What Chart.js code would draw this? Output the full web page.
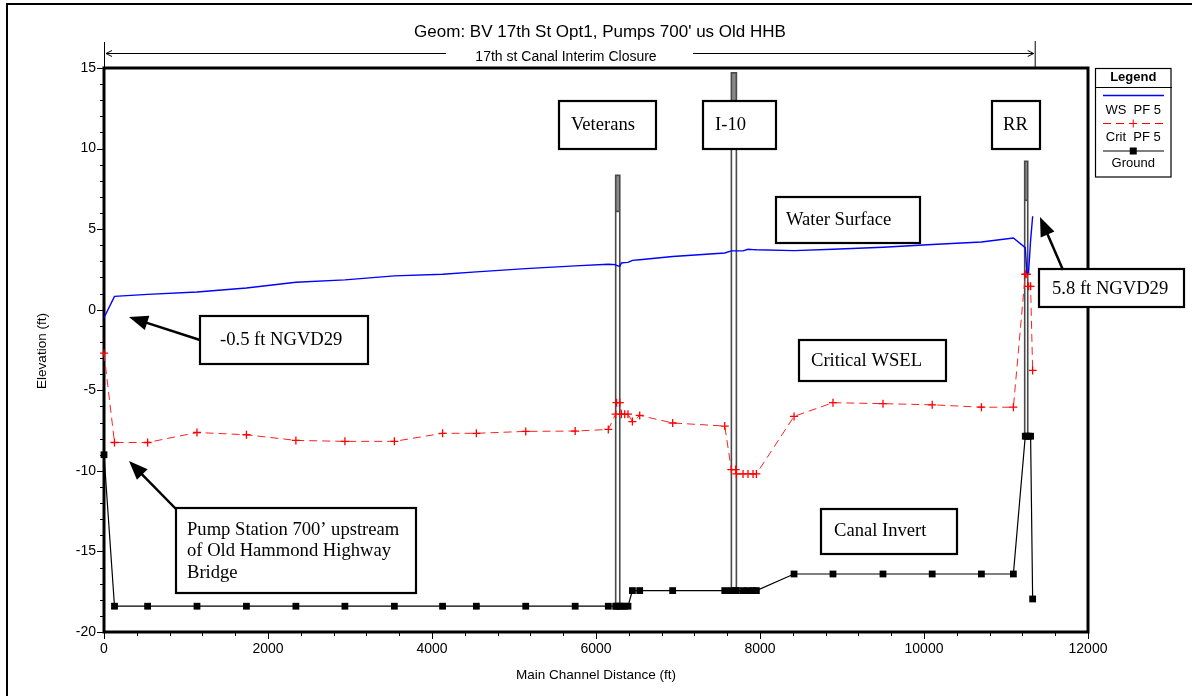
<!DOCTYPE html>
<html>
<head>
<meta charset="utf-8">
<script src="https://cdn.jsdelivr.net/npm/chart.js@4.4.1/dist/chart.umd.min.js"></script>
<style>
  html, body { margin: 0; padding: 0; background: #fff; overflow: hidden; }
  #wrap { width: 1192px; height: 696px; position: relative; }
</style>
</head>
<body>
<div id="wrap"><canvas id="c" width="1192" height="696"></canvas></div>
<script>
// Profile stations along the main channel (ft)
const stations = [0, 128, 532, 1134, 1737, 2340, 2938, 3541, 4129, 4541, 5143, 5746, 6150,
  6240, 6250, 6290, 6310, 6350, 6390, 6444, 6533, 6935,
  7570, 7651, 7704, 7712, 7793, 7854, 7915, 7956, 8415,
  8890, 9500, 10100, 10700, 11090, 11235, 11255, 11275, 11300, 11325];

// Water surface, PF 5 (ft)
const wsElev = [-0.5, 0.83, 0.95, 1.1, 1.35, 1.7, 1.85, 2.1, 2.2, 2.35, 2.55, 2.72, 2.82,
  2.8, 2.75, 2.69, 2.9, 2.92, 2.94, 3.06, 3.1, 3.3,
  3.52, 3.65, 3.65, 3.65, 3.65, 3.75, 3.73, 3.72, 3.67,
  3.75, 3.88, 4.05, 4.2, 4.45, 3.85, 2.3, 2.3, 4.3, 5.8];

// Critical water surface, PF 5 (ft)
const critElev = [-2.7, -8.24, -8.24, -7.62, -7.76, -8.11, -8.17, -8.17, -7.67, -7.67, -7.55, -7.53, -7.43,
  -6.48, -5.77, -5.77, -6.48, -6.48, -6.48, -6.94, -6.56, -7.03,
  -7.22, -9.92, -9.92, -10.19, -10.19, -10.19, -10.19, -10.19, -6.62,
  -5.77, -5.83, -5.9, -6.05, -6.05, 2.2, 2.2, 1.45, 1.45, -3.77];

// Channel invert (ft)
const groundElev = [-9.0, -18.4, -18.4, -18.4, -18.4, -18.4, -18.4, -18.4, -18.4, -18.4, -18.4, -18.4, -18.4,
  -18.4, -18.4, -18.4, -18.4, -18.4, -18.4, -17.43, -17.43, -17.43,
  -17.43, -17.43, -17.43, -17.43, -17.43, -17.43, -17.43, -17.43, -16.4,
  -16.4, -16.4, -16.4, -16.4, -16.4, -7.85, -7.85, -7.85, -7.85, -17.95];

// Bridges crossing the canal
const bridgeNames = ['Veterans', 'I-10', 'RR'];
const bridgeUpSta = [6240, 7651, 11228];
const bridgeDnSta = [6290, 7712, 11265];
const bridgeTopElev = [8.34, 14.7, 9.21];
const bridgeLowChord = [6.1, 12.5, 6.79];
const bridgeBaseElev = [-18.4, -17.43, -7.85];

// Reach covered by the interim closure (ft)
const closureReach = [0, 11350];

// Axis ranges and tick spacing
const xRange = [0, 12000];
const yRange = [-20, 15];
const xMinorStep = 400, xMajorStep = 2000;
const yMinorStep = 1, yMajorStep = 5;

const FONT = "'Liberation Sans', Arial, Helvetica, sans-serif";
const SERIF = "'Liberation Serif', 'Times New Roman', Times, serif";

function pts(vals) { return stations.map((s, i) => ({ x: s, y: vals[i] })); }

function arrowHead(ctx, x0, y0, x1, y1, len, half) {
  const a = Math.atan2(y1 - y0, x1 - x0);
  const bx = x1 - len * Math.cos(a), by = y1 - len * Math.sin(a);
  ctx.beginPath();
  ctx.moveTo(x1, y1);
  ctx.lineTo(bx + half * Math.sin(a), by - half * Math.cos(a));
  ctx.lineTo(bx - half * Math.sin(a), by + half * Math.cos(a));
  ctx.closePath();
  ctx.fill();
}

function calloutArrow(ctx, x0, y0, x1, y1) {
  const a = Math.atan2(y1 - y0, x1 - x0);
  ctx.save();
  ctx.strokeStyle = '#000'; ctx.fillStyle = '#000'; ctx.lineWidth = 2.5;
  ctx.beginPath(); ctx.moveTo(x0, y0);
  ctx.lineTo(x1 - 14 * Math.cos(a), y1 - 14 * Math.sin(a)); ctx.stroke();
  arrowHead(ctx, x0, y0, x1, y1, 19, 7.5);
  ctx.restore();
}

function textBox(ctx, x1, y1, x2, y2, lines, tx, ty, lh) {
  ctx.save();
  ctx.fillStyle = '#fff';
  ctx.fillRect(x1, y1, x2 - x1, y2 - y1);
  ctx.strokeStyle = '#000'; ctx.lineWidth = 2.2;
  ctx.strokeRect(x1, y1, x2 - x1, y2 - y1);
  ctx.fillStyle = '#000';
  ctx.font = '18.6px ' + SERIF;
  ctx.textAlign = 'left'; ctx.textBaseline = 'middle';
  lines.forEach((t, i) => ctx.fillText(t, tx, ty + i * lh));
  ctx.restore();
}

// Bridge decks and piers, tick marks and plot frame, drawn beneath the profile lines
const underlayPlugin = {
  id: 'underlay',
  beforeDatasetsDraw(chart) {
    const { ctx, chartArea: ca, scales: { x, y } } = chart;
    ctx.save();
    for (let i = 0; i < bridgeNames.length; i++) {
      const xa = x.getPixelForValue(bridgeUpSta[i]);
      const xb = x.getPixelForValue(bridgeDnSta[i]);
      const yt = y.getPixelForValue(bridgeTopElev[i]);
      const yl = y.getPixelForValue(bridgeLowChord[i]);
      const yb = y.getPixelForValue(bridgeBaseElev[i]);
      ctx.fillStyle = '#8a8a8a';
      ctx.fillRect(xa, yt, xb - xa, yl - yt);
      ctx.strokeStyle = '#4a4a4a'; ctx.lineWidth = 1.6;
      ctx.strokeRect(xa, yt, xb - xa, yb - yt);
      ctx.beginPath(); ctx.moveTo(xa, yl); ctx.lineTo(xb, yl); ctx.stroke();
    }

    ctx.lineWidth = 1; ctx.strokeStyle = '#000';
    for (let v = yRange[0]; v <= yRange[1]; v += yMinorStep) {
      const py = Math.round(y.getPixelForValue(v)) + 0.5;
      const len = (v % yMajorStep === 0) ? 7 : 4;
      ctx.beginPath(); ctx.moveTo(ca.left - len, py); ctx.lineTo(ca.left, py); ctx.stroke();
    }
    for (let v = xRange[0]; v <= xRange[1]; v += xMinorStep) {
      const px = Math.round(x.getPixelForValue(v)) + 0.5;
      const len = (v % xMajorStep === 0) ? 7 : 4;
      ctx.beginPath(); ctx.moveTo(px, ca.bottom); ctx.lineTo(px, ca.bottom + len); ctx.stroke();
    }
    ctx.lineWidth = 3;
    ctx.strokeRect(ca.left, ca.top, ca.right - ca.left, ca.bottom - ca.top);
    ctx.restore();
  }
};

// Titles, legend and callouts
const overlayPlugin = {
  id: 'overlay',
  afterDraw(chart) {
    const { ctx, chartArea: ca, scales: { x } } = chart;
    ctx.save();

    // figure border
    ctx.strokeStyle = '#000'; ctx.lineWidth = 2;
    ctx.strokeRect(7, 4, 1200, 710);

    // titles
    ctx.fillStyle = '#000';
    ctx.textAlign = 'center'; ctx.textBaseline = 'middle';
    ctx.font = '17px ' + FONT;
    ctx.fillText("Geom: BV 17th St Opt1, Pumps 700' us Old HHB", 600, 32);
    ctx.font = '13.5px ' + FONT;
    ctx.fillText('Main Channel Distance (ft)', 596, 675);
    ctx.save();
    ctx.translate(42, 351); ctx.rotate(-Math.PI / 2);
    ctx.fillText('Elevation (ft)', 0, 0);
    ctx.restore();

    // closure reach dimension line
    const cx0 = x.getPixelForValue(closureReach[0]);
    const cx1 = x.getPixelForValue(closureReach[1]);
    const dimY = 53.5;
    ctx.font = '14px ' + FONT;
    ctx.fillText('17th st Canal Interim Closure', 566, 57);
    ctx.lineWidth = 1;
    ctx.beginPath();
    ctx.moveTo(cx0 + 0.5, 42); ctx.lineTo(cx0 + 0.5, ca.top);
    ctx.moveTo(cx1 + 0.5, 41); ctx.lineTo(cx1 + 0.5, ca.top);
    ctx.moveTo(cx0 + 2, dimY); ctx.lineTo(446, dimY);
    ctx.moveTo(693, dimY); ctx.lineTo(cx1 - 1, dimY);
    ctx.moveTo(cx0 + 8, dimY - 3); ctx.lineTo(cx0 + 2, dimY); ctx.lineTo(cx0 + 8, dimY + 3);
    ctx.moveTo(cx1 - 7, dimY - 3); ctx.lineTo(cx1 - 1, dimY); ctx.lineTo(cx1 - 7, dimY + 3);
    ctx.stroke();

    // legend
    const lx0 = 1095.5, lx1 = 1171, ly0 = 68.5, ly1 = 177;
    const lc = (lx0 + lx1) / 2;
    ctx.fillStyle = '#fff'; ctx.fillRect(lx0, ly0, lx1 - lx0, ly1 - ly0);
    ctx.strokeStyle = '#000'; ctx.lineWidth = 1.2;
    ctx.strokeRect(lx0, ly0, lx1 - lx0, ly1 - ly0);
    ctx.beginPath(); ctx.moveTo(lx0, 87.5); ctx.lineTo(lx1 + 1, 87.5); ctx.stroke();
    ctx.fillStyle = '#000';
    ctx.font = 'bold 13px ' + FONT;
    ctx.fillText('Legend', lc, 77);
    ctx.font = '13px ' + FONT;
    ctx.fillText('WS  PF 5', lc, 110);
    ctx.fillText('Crit  PF 5', lc, 137);
    ctx.fillText('Ground', lc, 163);
    ctx.strokeStyle = '#0000ff'; ctx.lineWidth = 1.3;
    ctx.beginPath(); ctx.moveTo(1103, 95.5); ctx.lineTo(1164, 95.5); ctx.stroke();
    ctx.strokeStyle = '#ff0000'; ctx.lineWidth = 1;
    ctx.setLineDash([8, 5]);
    ctx.beginPath(); ctx.moveTo(1103, 123.5); ctx.lineTo(1164, 123.5); ctx.stroke();
    ctx.setLineDash([]);
    ctx.beginPath(); ctx.moveTo(lc - 4, 123.5); ctx.lineTo(lc + 4, 123.5);
    ctx.moveTo(lc, 119.5); ctx.lineTo(lc, 127.5); ctx.stroke();
    ctx.strokeStyle = '#000'; ctx.lineWidth = 1.2;
    ctx.beginPath(); ctx.moveTo(1103, 151); ctx.lineTo(1164, 151); ctx.stroke();
    ctx.fillStyle = '#000'; ctx.fillRect(lc - 3.5, 147.5, 7, 7);

    // callouts
    textBox(ctx, 559, 101, 656, 149, ['Veterans'], 571, 125, 0);
    textBox(ctx, 703, 101, 776, 149, ['I-10'], 715, 125, 0);
    textBox(ctx, 992, 101, 1040, 149, ['RR'], 1003, 125, 0);
    textBox(ctx, 776, 197, 920, 243, ['Water Surface'], 786, 220, 0);
    textBox(ctx, 799, 340, 946, 381, ['Critical WSEL'], 811, 361, 0);
    textBox(ctx, 821, 509, 957, 554, ['Canal Invert'], 834, 531, 0);
    textBox(ctx, 200, 316, 368, 364, ['-0.5 ft NGVD29'], 220, 340, 0);
    textBox(ctx, 1039, 269, 1184, 307, ['5.8 ft NGVD29'], 1052, 289, 0);
    textBox(ctx, 176, 508, 416, 593, ['Pump Station 700\u2019 upstream', 'of Old Hammond Highway', 'Bridge'], 187, 530, 21.5);

    calloutArrow(ctx, 200, 340, 129, 317);
    calloutArrow(ctx, 1063, 270, 1040, 217);
    calloutArrow(ctx, 176, 509, 129, 461);

    ctx.restore();
  }
};

Chart.defaults.font.family = FONT;
Chart.defaults.color = '#000';

new Chart(document.getElementById('c'), {
  type: 'line',
  data: {
    datasets: [
      {
        label: 'WS  PF 5', data: pts(wsElev), clip: 8,
        borderColor: '#0000ff', borderWidth: 1.4, pointRadius: 0, tension: 0
      },
      {
        label: 'Crit  PF 5', data: pts(critElev), clip: 8,
        borderColor: '#ff2020', borderWidth: 1, borderDash: [8, 5],
        pointStyle: 'cross', pointRadius: 4, pointBorderColor: '#ff0000',
        pointBorderWidth: 1.3, pointBackgroundColor: '#ff0000', tension: 0
      },
      {
        label: 'Ground', data: pts(groundElev), clip: 8,
        borderColor: '#000', borderWidth: 1.2,
        pointStyle: 'rect', pointRadius: 4.8, pointBorderWidth: 0,
        pointBackgroundColor: '#000', pointBorderColor: '#000', tension: 0
      }
    ]
  },
  options: {
    responsive: false,
    animation: false,
    devicePixelRatio: 1,
    layout: { padding: { left: 0, top: 68, right: 104, bottom: 0 } },
    plugins: { legend: { display: false }, tooltip: { enabled: false }, title: { display: false } },
    scales: {
      x: {
        type: 'linear', min: xRange[0], max: xRange[1],
        afterFit(s) { s.height = 64; },
        border: { display: false },
        grid: { display: false, drawTicks: false },
        ticks: {
          stepSize: xMinorStep, autoSkip: false, maxRotation: 0, padding: 9,
          font: { size: 14 },
          callback: v => (v % xMajorStep === 0 ? String(v) : '')
        }
      },
      y: {
        type: 'linear', min: yRange[0], max: yRange[1],
        afterFit(s) { s.width = 104; },
        border: { display: false },
        grid: { display: false, drawTicks: false },
        ticks: {
          stepSize: yMinorStep, autoSkip: false, padding: 8,
          font: { size: 14 },
          callback: v => (v % yMajorStep === 0 ? String(v) : '')
        }
      }
    }
  },
  plugins: [underlayPlugin, overlayPlugin]
});
</script>
</body>
</html>
